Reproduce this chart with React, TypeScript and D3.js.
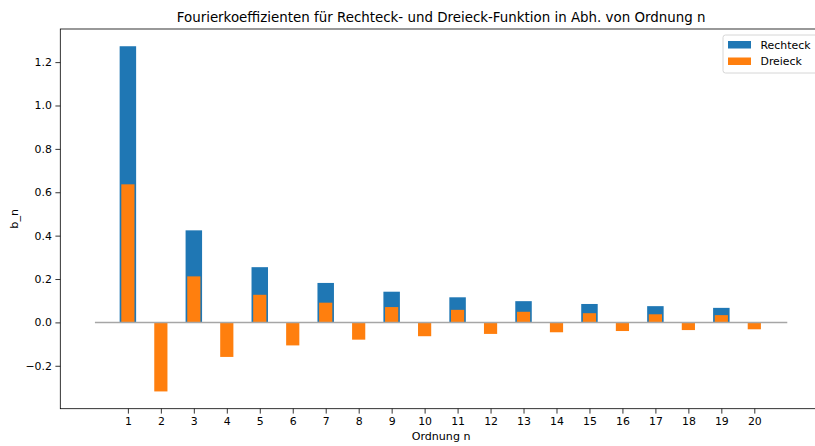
import React, { useRef, useEffect } from "react";
import * as d3 from "d3";

// Ordnung n
const orders = [1, 2, 3, 4, 5, 6, 7, 8, 9, 10, 11, 12, 13, 14, 15, 16, 17, 18, 19, 20];
// b_n Rechteck
const rechteck = [
  1.2732, 0, 0.4244, 0, 0.2546, 0, 0.1819, 0, 0.1415, 0,
  0.1157, 0, 0.0979, 0, 0.0849, 0, 0.0749, 0, 0.067, 0,
];
// b_n Dreieck
const dreieck = [
  0.6366, -0.3183, 0.2122, -0.1592, 0.1273, -0.1061, 0.0909, -0.0796, 0.0707, -0.0637,
  0.0579, -0.0531, 0.049, -0.0455, 0.0424, -0.0398, 0.0374, -0.0354, 0.0335, -0.0318,
];
const yTicks = [-0.2, 0, 0.2, 0.4, 0.6, 0.8, 1.0, 1.2];
const seriesNames = ["Rechteck", "Dreieck"];

const W = 815;
const H = 446;
const FONT = "DejaVu Sans, sans-serif";

const App = () => {
  const svgRef = useRef<SVGSVGElement>(null);

  useEffect(() => {
    const svg = d3.select(svgRef.current);
    svg.selectAll("*").remove();

    const margin = { top: 29, left: 60.3, right: 821.9, bottom: 408.7 };

    const x = d3.scaleLinear().domain([-1.05, 22.05]).range([margin.left, margin.right]);
    const y = d3.scaleLinear().domain([-0.3979, 1.3527]).range([margin.bottom, margin.top]);

    const blue = "#1f77b4";
    const orange = "#ff7f0e";

    // Rechteck bars (width 0.5)
    svg
      .append("g")
      .selectAll("rect")
      .data(orders.map((n, i) => ({ n, v: rechteck[i] })))
      .join("rect")
      .attr("x", (d) => x(d.n - 0.25))
      .attr("width", x(0.5) - x(0))
      .attr("y", (d) => y(Math.max(0, d.v)))
      .attr("height", (d) => Math.abs(y(d.v) - y(0)))
      .attr("fill", blue);

    // Dreieck bars (width 0.4)
    svg
      .append("g")
      .selectAll("rect")
      .data(orders.map((n, i) => ({ n, v: dreieck[i] })))
      .join("rect")
      .attr("x", (d) => x(d.n - 0.2))
      .attr("width", x(0.4) - x(0))
      .attr("y", (d) => y(Math.max(0, d.v)))
      .attr("height", (d) => Math.abs(y(d.v) - y(0)))
      .attr("fill", orange);

    // zero line
    svg
      .append("line")
      .attr("x1", x(0))
      .attr("x2", x(21))
      .attr("y1", y(0))
      .attr("y2", y(0))
      .attr("stroke", "#a6a6a6")
      .attr("stroke-width", 1.5);

    // axes
    const xAxis = svg
      .append("g")
      .attr("transform", `translate(0,${margin.bottom})`)
      .call(d3.axisBottom(x).tickValues(orders).tickFormat(d3.format("d")).tickSize(4.9).tickPadding(3.5));
    const yAxis = svg
      .append("g")
      .attr("transform", `translate(${margin.left},0)`)
      .call(
        d3
          .axisLeft(y)
          .tickValues(yTicks)
          .tickFormat((d) => d3.format(".1f")(d as number).replace("-", "\u2212"))
          .tickSize(4.9)
          .tickPadding(3.5)
      );
    [xAxis, yAxis].forEach((g) => {
      g.select(".domain").remove();
      g.selectAll("line").attr("stroke", "#000").attr("stroke-width", 0.8);
      g.selectAll("text").attr("font-family", FONT).attr("font-size", 10.9).attr("fill", "#000");
    });

    // frame
    svg
      .append("rect")
      .attr("x", margin.left)
      .attr("y", margin.top)
      .attr("width", margin.right - margin.left)
      .attr("height", margin.bottom - margin.top)
      .attr("fill", "none")
      .attr("stroke", "#000")
      .attr("stroke-width", 0.8);

    // labels
    svg
      .append("text")
      .attr("x", (margin.left + margin.right) / 2)
      .attr("y", 21.5)
      .attr("text-anchor", "middle")
      .attr("font-family", FONT)
      .attr("font-size", 13.4)
      .text("Fourierkoeffizienten für Rechteck- und Dreieck-Funktion in Abh. von Ordnung n");
    svg
      .append("text")
      .attr("x", (margin.left + margin.right) / 2)
      .attr("y", 440)
      .attr("text-anchor", "middle")
      .attr("font-family", FONT)
      .attr("font-size", 11.1)
      .text("Ordnung n");
    svg
      .append("text")
      .attr("transform", `translate(18,${(margin.top + margin.bottom) / 2}) rotate(-90)`)
      .attr("text-anchor", "middle")
      .attr("font-family", FONT)
      .attr("font-size", 11.1)
      .text("b_n");

    // legend
    const lg = svg.append("g").attr("transform", "translate(723,35)");
    lg.append("rect")
      .attr("width", 110)
      .attr("height", 38)
      .attr("rx", 2.5)
      .attr("fill", "#fff")
      .attr("fill-opacity", 0.8)
      .attr("stroke", "#cccccc")
      .attr("stroke-width", 0.8);
    seriesNames.forEach((name, i) => {
      lg.append("rect")
        .attr("x", 5)
        .attr("y", 6 + i * 16.5)
        .attr("width", 23)
        .attr("height", 7.5)
        .attr("fill", i === 0 ? blue : orange);
      lg.append("text")
        .attr("x", 37.5)
        .attr("y", 13.5 + i * 16.2)
        .attr("font-family", FONT)
        .attr("font-size", 10.9)
        .text(name);
    });
  }, []);

  return (
    <svg
      ref={svgRef}
      width={W}
      height={H}
      style={{ position: "absolute", left: 0, top: 0, background: "#fff" }}
    />
  );
};

export default App;
